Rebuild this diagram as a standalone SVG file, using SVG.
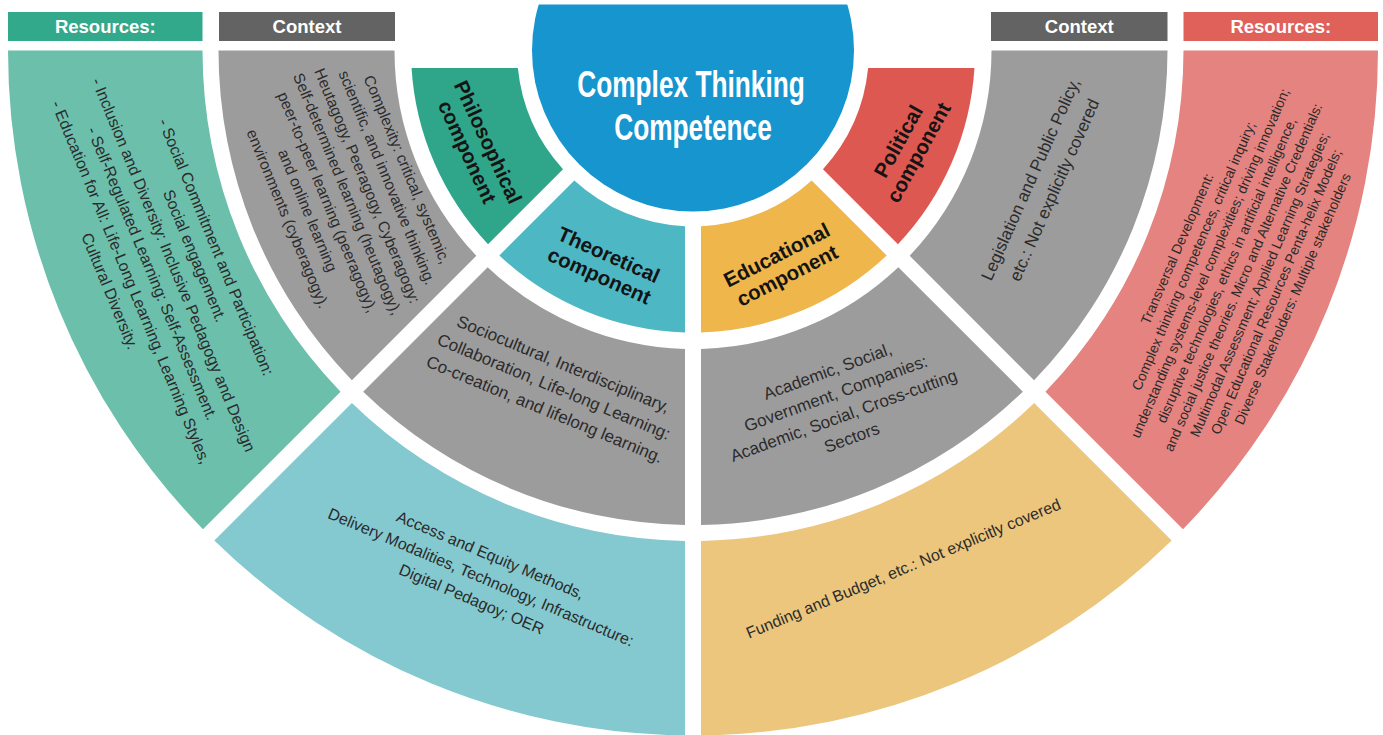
<svg xmlns="http://www.w3.org/2000/svg" width="1383" height="735" viewBox="0 0 1383 735">
  <defs>
    <clipPath id="clip-top">
      <rect x="0" y="4.5" width="1383" height="731"/>
    </clipPath>
    <style>
      .hdr { font-family: "Liberation Sans", Arial, sans-serif; font-weight: bold; font-size: 18.5px; fill: #ffffff; text-anchor: middle; }
      .comp { font-family: "Liberation Sans", Arial, sans-serif; font-weight: bold; font-size: 20.5px; fill: #141414; text-anchor: middle; }
      .body { font-family: "Liberation Sans", Arial, sans-serif; fill: #2b2b2b; text-anchor: middle; }
      .title { font-family: "Liberation Sans", Arial, sans-serif; font-weight: bold; font-size: 36px; fill: #ffffff; text-anchor: middle; }
      .gray { fill: #9d9c9d; }
    </style>
  </defs>
  <rect width="1383" height="735" fill="#ffffff"/>

  <!-- header bars -->
  <g id="hdr-resources-left">
    <rect x="8" y="12" width="194.5" height="29" fill="#33a98c"/>
    <text class="hdr" x="105.3" y="33">Resources:</text>
  </g>
  <g id="hdr-context-left">
    <rect x="219" y="12" width="176" height="29" fill="#636363"/>
    <text class="hdr" x="307" y="33">Context</text>
  </g>
  <g id="hdr-context-right">
    <rect x="991" y="12" width="176.5" height="29" fill="#636363"/>
    <text class="hdr" x="1079.3" y="33">Context</text>
  </g>
  <g id="hdr-resources-right">
    <rect x="1183.5" y="12" width="194.5" height="29" fill="#e0605a"/>
    <text class="hdr" x="1280.8" y="33">Resources:</text>
  </g>

  <!-- outer ring -->
  <g id="resources-left">
    <path d="M8,50.5 L202.5,50.5 A490.5,490.5 0 0 0 340.55,391.63 L203.01,529.17 A685,685 0 0 1 8,50.5 Z" fill="#6bbfab"/>
    <g transform="translate(163,269) rotate(67.5)" class="body" font-size="16" xml:space="preserve">
      <text y="-51.9">- Social Commitment and Participation:</text>
      <text y="-28.9">Social engagement.</text>
      <text y="-5.9">- Inclusion and Diversity:  Inclusive Pedagogy and Design</text>
      <text y="17.1">- Self-Regulated Learning: Self-Assessment.</text>
      <text y="40.1">- Education for All: Life-Long Learning, Learning Styles,</text>
      <text y="63.1">Cultural Diversity.</text>
    </g>
  </g>
  <g id="access">
    <path d="M351.87,402.95 A490.5,490.5 0 0 0 685,540.93 L685,735.45 A685,685 0 0 1 214.33,540.49 Z" fill="#84c9cf"/>
    <g transform="translate(481,577) rotate(23)" class="body" font-size="16" xml:space="preserve">
      <text y="-18.4">Access and Equity Methods,</text>
      <text y="5.6">Delivery Modalities, Technology, Infrastructure:</text>
      <text y="29.6">Digital Pedagoy;  OER</text>
    </g>
  </g>
  <g id="funding">
    <path d="M1034.13,402.95 A490.5,490.5 0 0 1 701,540.93 L701,735.45 A685,685 0 0 0 1171.67,540.49 Z" fill="#ecc67d"/>
    <g transform="translate(903.3,568.4) rotate(-22.6)" class="body" font-size="16">
      <text y="5.6">Funding and Budget, etc.: Not explicitly covered</text>
    </g>
  </g>
  <g id="resources-right">
    <path d="M1378,50.5 L1183.5,50.5 A490.5,490.5 0 0 1 1045.45,391.63 L1182.99,529.17 A685,685 0 0 0 1378,50.5 Z" fill="#e4837f"/>
    <g transform="translate(1234.8,273.8) rotate(-66.6)" class="body" font-size="14" xml:space="preserve">
      <text y="-58.1">Transversal Development:</text>
      <text y="-40.1">Complex thinking competences,  critical inquiry;</text>
      <text y="-22.1">understanding systems-level complexities; driving innovation;</text>
      <text y="-4.1">disruptive technologies, ethics in artificial intelligence,</text>
      <text y="13.9">and social justice theories. Micro and Alternative Credentials:</text>
      <text y="31.9">Multimodal Assessment; Applied Learning Strategies;</text>
      <text y="49.9">Open Educational Resources Penta-helix Models;</text>
      <text y="67.9">Diverse Stakeholders: Multiple stakeholders</text>
    </g>
  </g>

  <!-- context ring -->
  <g id="context-left">
    <path class="gray" d="M218.5,50.5 L394.5,50.5 A298.5,298.5 0 0 0 476.35,255.83 L351.87,380.31 A474.5,474.5 0 0 1 218.5,50.5 Z"/>
    <g transform="translate(347.5,194) rotate(67.5)" class="body" font-size="15.5">
      <text y="-59.1">Complexity: critical, systemic,</text>
      <text y="-37.6">scientific, and innovative thinking.</text>
      <text y="-16.1">Heutagogy, Peeragogy, Cyberagogy:</text>
      <text y="5.4">Self-determined learning (heutagogy),</text>
      <text y="26.9">peer-to-peer learning (peeragogy),</text>
      <text y="48.4">and online learning</text>
      <text y="69.9">environments (cyberagogy).</text>
    </g>
  </g>
  <g id="context-theoretical">
    <path class="gray" d="M487.67,267.15 A298.5,298.5 0 0 0 685,348.89 L685,524.93 A474.5,474.5 0 0 1 363.19,391.63 Z"/>
    <g transform="translate(554,386.5) rotate(22.5)" class="body" font-size="17">
      <text y="-18.5">Sociocultural, Interdisciplinary,</text>
      <text y="6">Collaboration, Life-long Learning:</text>
      <text y="30.5">Co-creation, and lifelong learning.</text>
    </g>
  </g>
  <g id="context-educational">
    <path class="gray" d="M898.33,267.15 A298.5,298.5 0 0 1 701,348.89 L701,524.93 A474.5,474.5 0 0 0 1022.81,391.63 Z"/>
    <g transform="translate(839.6,404.3) rotate(-20)" class="body" font-size="17">
      <text y="-29.25">Academic, Social,</text>
      <text y="-5.75">Government, Companies:</text>
      <text y="17.75">Academic, Social, Cross-cutting</text>
      <text y="41.25">Sectors</text>
    </g>
  </g>
  <g id="context-right">
    <path class="gray" d="M1167.5,50.5 L991.5,50.5 A298.5,298.5 0 0 1 909.65,255.83 L1034.13,380.31 A474.5,474.5 0 0 0 1167.5,50.5 Z"/>
    <g transform="translate(1042.2,184.5) rotate(-66)" class="body" font-size="17">
      <text y="-7">Legislation and Public Policy,</text>
      <text y="19">etc.: Not explicitly covered</text>
    </g>
  </g>

  <!-- component ring -->
  <g id="philosophical">
    <path d="M411.54,68 L517.87,68 A176,176 0 0 0 563.02,169.16 L488.02,244.17 A282,282 0 0 1 411.54,68 Z" fill="#2fa68a"/>
    <g transform="translate(477.4,147) rotate(65)" class="comp">
      <text y="-4.6">Philosophical</text>
      <text y="18.4">component</text>
    </g>
  </g>
  <g id="theoretical">
    <path d="M574.33,180.48 A176,176 0 0 0 685,226.32 L685,332.39 A282,282 0 0 1 499.33,255.48 Z" fill="#4db8c4"/>
    <g transform="translate(604,265.5) rotate(24)" class="comp">
      <text y="-4.6">Theoretical</text>
      <text y="18.4">component</text>
    </g>
  </g>
  <g id="educational">
    <path d="M811.67,180.48 A176,176 0 0 1 701,226.32 L701,332.39 A282,282 0 0 0 886.67,255.48 Z" fill="#efb64c"/>
    <g transform="translate(782,265.5) rotate(-27)" class="comp">
      <text y="-4.6">Educational</text>
      <text y="18.4">component</text>
    </g>
  </g>
  <g id="political">
    <path d="M974.46,68 L868.13,68 A176,176 0 0 1 822.98,169.16 L897.98,244.17 A282,282 0 0 0 974.46,68 Z" fill="#de5852"/>
    <g transform="translate(908.6,147) rotate(-61)" class="comp">
      <text y="-4.6">Political</text>
      <text y="18.4">component</text>
    </g>
  </g>

  <!-- central competence circle -->
  <g id="competence">
    <circle cx="693" cy="50.5" r="161" fill="#1795cf" clip-path="url(#clip-top)"/>
    <text class="title" transform="translate(691,97) scale(0.73,1)">Complex Thinking</text>
    <text class="title" transform="translate(693,140) scale(0.73,1)">Competence</text>
  </g>
</svg>
